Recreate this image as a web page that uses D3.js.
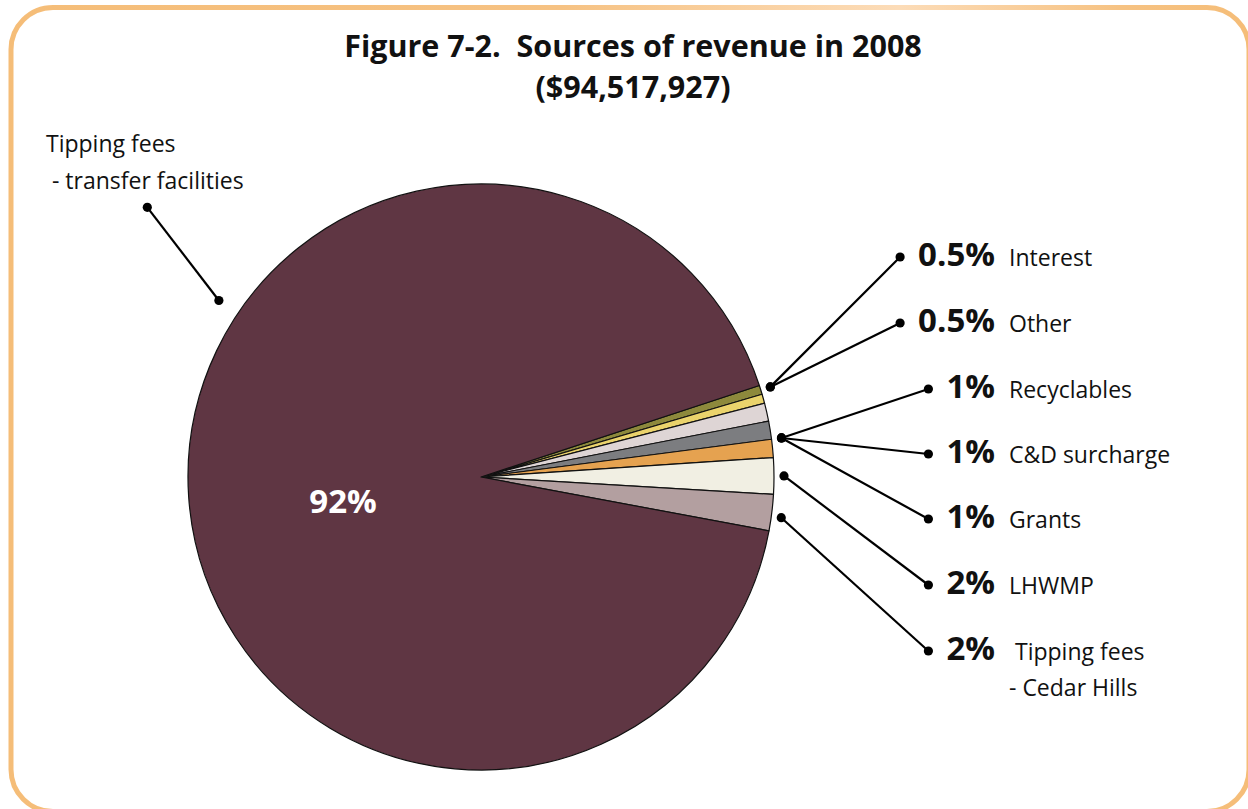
<!DOCTYPE html>
<html>
<head>
<meta charset="utf-8">
<script src="https://cdn.jsdelivr.net/npm/d3@7"></script>
<style>
  html, body { margin: 0; padding: 0; background: #ffffff; }
  svg { display: block; }
  text { font-family: "Open Sans", "Noto Sans", sans-serif; white-space: pre; }
</style>
</head>
<body>
<svg id="chart" width="1248" height="809"></svg>
<script>
// Revenue sources, 2008 (percent of total)
const categories = [
  "Interest",
  "Other",
  "Recyclables",
  "C&D surcharge",
  "Grants",
  "LHWMP",
  "Tipping fees|- Cedar Hills",
  "Tipping fees|- transfer facilities"
];
const shares = [0.5, 0.5, 1, 1, 1, 2, 2, 92];
const sliceColors = [
  "#8d893c", "#ead36c", "#ded5d5", "#7c7d80",
  "#e5a250", "#f1efe3", "#b39fa0", "#5f3643"
];
const titleLines = ["Figure 7-2.  Sources of revenue in 2008", "($94,517,927)"];

const W = 1248, H = 809;
const svg = d3.select("#chart");

// Rounded frame with a soft orange stroke
const defs = svg.append("defs");
const grad = defs.append("linearGradient")
  .attr("id", "frameGrad").attr("gradientUnits", "userSpaceOnUse")
  .attr("x1", 0).attr("y1", 0).attr("x2", W).attr("y2", 0);
[[0, "#f5bd78"], [0.45, "#f6c283"], [0.72, "#fcdcb8"], [0.9, "#f6c282"], [1, "#f5bd78"]]
  .forEach(([o, c]) => grad.append("stop").attr("offset", o).attr("stop-color", c));
svg.append("rect")
  .attr("x", 11).attr("y", 7.5).attr("width", 1238).attr("height", 804)
  .attr("rx", 42).attr("ry", 42)
  .attr("fill", "none").attr("stroke", "url(#frameGrad)").attr("stroke-width", 5);

// Title
svg.append("g").selectAll("text").data(titleLines).join("text")
  .attr("x", 633).attr("y", (d, i) => 57 + i * 41)
  .attr("text-anchor", "middle")
  .attr("font-weight", 700).attr("font-size", 30.5)
  .attr("fill", "#111")
  .text(d => d);

// Pie
const cx = 481, cy = 477, R = 293;
const start = 71.8 * Math.PI / 180;
const pie = d3.pie().sort(null).value(d => d)
  .startAngle(start).endAngle(start + 2 * Math.PI);
const arcs = pie(shares);
const arc = d3.arc().innerRadius(0).outerRadius(R);
const g = svg.append("g").attr("transform", `translate(${cx},${cy})`);
g.selectAll("path").data(arcs).join("path")
  .attr("d", arc)
  .attr("fill", (d, i) => sliceColors[i])
  .attr("stroke", "#111").attr("stroke-width", 1.2).attr("stroke-linejoin", "round");

// Point on a ring at a fraction t through slice i
function ringPoint(i, t, rr) {
  const a = arcs[i].startAngle + t * (arcs[i].endAngle - arcs[i].startAngle);
  return [cx + rr * Math.sin(a), cy - rr * Math.cos(a)];
}

// Big-slice value label
svg.append("text")
  .attr("x", cx - 138).attr("y", cy + 36)
  .attr("text-anchor", "middle")
  .attr("font-weight", 700).attr("font-size", 33).attr("fill", "#ffffff")
  .text(shares[7] + "%");

// Right-hand labels
const pctRight = 995, nameLeft = 1009;
const rowBaselines = [266, 332, 398, 463, 528, 594, 660];
// which slice / fraction each leader starts from (shared dots for grouped rows)
const anchorSpec = [[0, 0.5], [0, 0.5], [3, 1], [3, 1], [3, 1], [5, 0.5], [6, 0.6]];
const lab = svg.append("g");
const leaders = svg.append("g");
const dotR = 4.6;

for (let i = 0; i < 7; i++) {
  const yb = rowBaselines[i];
  const pct = lab.append("text")
    .attr("x", pctRight).attr("y", yb)
    .attr("text-anchor", "end")
    .attr("font-weight", 700).attr("font-size", 33).attr("fill", "#111")
    .text(shares[i] + "%");
  const parts = categories[i].split("|");
  const nm = lab.append("text")
    .attr("y", yb).attr("font-size", 23).attr("fill", "#111");
  parts.forEach((p, k) => {
    nm.append("tspan")
      .attr("x", nameLeft + (parts.length > 1 && k === 0 ? 6 : 0))
      .attr("y", yb + k * 36)
      .text(p);
  });
  const w = pct.node().getComputedTextLength();
  const outer = [pctRight - w - 18, yb - 9];
  const inner = ringPoint(anchorSpec[i][0], anchorSpec[i][1], R + 10);
  leaders.append("line")
    .attr("x1", inner[0]).attr("y1", inner[1])
    .attr("x2", outer[0]).attr("y2", outer[1])
    .attr("stroke", "#000").attr("stroke-width", 2.2);
  leaders.append("circle").attr("cx", outer[0]).attr("cy", outer[1]).attr("r", dotR).attr("fill", "#000");
  leaders.append("circle").attr("cx", inner[0]).attr("cy", inner[1]).attr("r", dotR).attr("fill", "#000");
}

// Left label for the large slice
const big = categories[7].split("|");
const bl = svg.append("text").attr("font-size", 23).attr("fill", "#111");
bl.append("tspan").attr("x", 46).attr("y", 152).text(big[0]);
bl.append("tspan").attr("x", 46).attr("y", 189).text(" " + big[1]);
const bIn = ringPoint(7, 0.614, R + 23);
const bOut = [147.3, 207.3];
leaders.append("line")
  .attr("x1", bIn[0]).attr("y1", bIn[1]).attr("x2", bOut[0]).attr("y2", bOut[1])
  .attr("stroke", "#000").attr("stroke-width", 2.2);
leaders.append("circle").attr("cx", bIn[0]).attr("cy", bIn[1]).attr("r", dotR).attr("fill", "#000");
leaders.append("circle").attr("cx", bOut[0]).attr("cy", bOut[1]).attr("r", dotR).attr("fill", "#000");
</script>
</body>
</html>
